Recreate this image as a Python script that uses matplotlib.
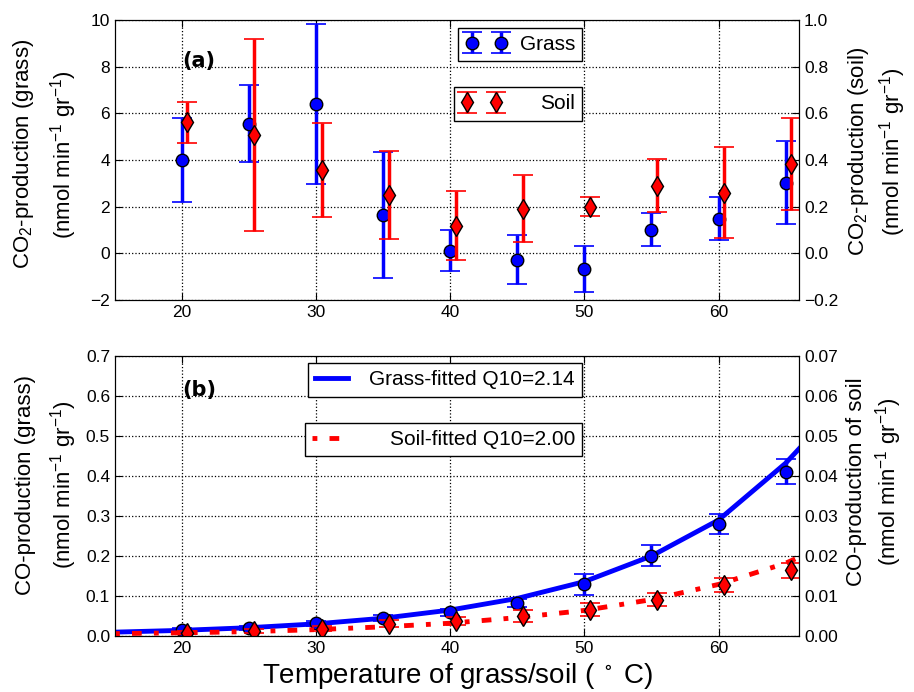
import matplotlib
matplotlib.use("Agg")
import matplotlib.pyplot as plt

plt.rcParams['font.family'] = ['Liberation Sans', 'DejaVu Sans']
plt.rcParams['mathtext.fontset'] = 'custom'
plt.rcParams['mathtext.rm'] = 'Liberation Sans'
plt.rcParams['mathtext.it'] = 'Liberation Sans'
plt.rcParams['mathtext.default'] = 'regular'
plt.rcParams['xtick.direction'] = 'in'
plt.rcParams['ytick.direction'] = 'in'

# Temperatures (soil points are drawn slightly shifted)
temps = [20, 25, 30, 35, 40, 45, 50, 55, 60, 65]
temps_soil = [t + 0.4 for t in temps]

# (a) CO2 production
co2_grass = [4.0, 5.56, 6.41, 1.64, 0.11, -0.27, -0.67, 1.01, 1.49, 3.03]
co2_grass_err = [1.8, 1.66, 3.42, 2.69, 0.87, 1.06, 0.99, 0.7, 0.91, 1.79]
co2_soil = [0.561, 0.507, 0.357, 0.25, 0.119, 0.191, 0.2, 0.29, 0.26, 0.383]
co2_soil_err = [0.087, 0.413, 0.202, 0.19, 0.147, 0.143, 0.04, 0.113, 0.196, 0.196]

# (b) CO production
co_grass = [0.016, 0.02, 0.032, 0.045, 0.059, 0.082, 0.129, 0.201, 0.28, 0.411]
co_grass_err = [0.004, 0.005, 0.006, 0.007, 0.009, 0.01, 0.026, 0.026, 0.025, 0.031]
co_soil = [0.0008, 0.0013, 0.0018, 0.0031, 0.0038, 0.005, 0.0066, 0.0091, 0.0127, 0.0164]
co_soil_err = [0.0004, 0.0005, 0.0006, 0.0008, 0.001, 0.0015, 0.0017, 0.0016, 0.0018, 0.0018]

# fitted Q10 curves
fit_t = [15, 20, 25, 30, 35, 40, 45, 50, 55, 60, 65, 66]
fit_grass = [0.0097, 0.0142, 0.0208, 0.0304, 0.0445, 0.065, 0.094, 0.136, 0.200, 0.290, 0.432, 0.468]
fit_soil = [0.0006, 0.0008, 0.0011, 0.0016, 0.0023, 0.0032, 0.0046, 0.0064, 0.0091, 0.0129, 0.0182, 0.0197]

unit = '(nmol min$^{-1}$ gr$^{-1}$)'

fig = plt.figure(figsize=(9.14, 6.92), dpi=100)
ax1 = fig.add_axes([0.1258, 0.5665, 0.7484, 0.4046])
ax2 = fig.add_axes([0.1258, 0.0809, 0.7484, 0.4046])

eb_kw = dict(linestyle='none', elinewidth=2.5, capsize=7, capthick=1.2, markeredgecolor='black')
leg_kw = dict(loc='upper right', fancybox=False, fontsize=15, edgecolor='black',
              framealpha=1, borderaxespad=0, borderpad=0.35)

# panel (a)
ax1.errorbar(temps, co2_grass, yerr=co2_grass_err, fmt='o', color='blue', ecolor='blue',
             markersize=9, label='Grass', **eb_kw)
ax1.set_xlim(15, 66)
ax1.set_ylim(-2, 10)
ax1.set_xticks([20, 30, 40, 50, 60])
ax1.grid(True, linestyle=':', color='black', linewidth=0.9)
ax1.set_ylabel('CO$_2$-production (grass)\n' + unit, fontsize=16, linespacing=1.55)
ax1.yaxis.set_label_coords(-0.052, 0.52)
ax1.text(0.098, 0.854, '(a)', transform=ax1.transAxes, fontsize=15, fontweight='bold',
         family='DejaVu Sans', va='center')
ax1r = ax1.twinx()
ax1r.errorbar(temps_soil, co2_soil, yerr=co2_soil_err, fmt='d', color='red', ecolor='red',
              markersize=10, label='Soil', **eb_kw)
ax1r.set_ylim(-0.2, 1.0)
ax1r.set_xlim(15, 66)
ax1r.set_ylabel('CO$_2$-production (soil)\n' + unit, fontsize=16, linespacing=1.3)
ax1r.yaxis.set_label_coords(1.068, 0.53)
ax1.legend(bbox_to_anchor=(0.683, 0.972), numpoints=2, handletextpad=0.6, **leg_kw)
ax1r.legend(bbox_to_anchor=(0.683, 0.760), numpoints=2, handletextpad=1.8, **leg_kw)

# panel (b)
ax2.errorbar(temps, co_grass, yerr=co_grass_err, fmt='o', color='blue', ecolor='blue',
             markersize=9, **eb_kw)
ax2.plot(fit_t, fit_grass, color='blue', linewidth=3.5, label='Grass-fitted Q10=2.14')
ax2.set_xlim(15, 66)
ax2.set_ylim(0, 0.7)
ax2.set_xticks([20, 30, 40, 50, 60])
ax2.grid(True, linestyle=':', color='black', linewidth=0.9)
ax2.set_ylabel('CO-production (grass)\n' + unit, fontsize=16, linespacing=1.55)
ax2.yaxis.set_label_coords(-0.052, 0.54)
ax2.set_xlabel('Temperature of grass/soil ( $^\\circ$ C)', fontsize=20)
ax2.text(0.098, 0.879, '(b)', transform=ax2.transAxes, fontsize=15, fontweight='bold',
         family='DejaVu Sans', va='center')
ax2r = ax2.twinx()
ax2r.errorbar(temps_soil, co_soil, yerr=co_soil_err, fmt='d', color='red', ecolor='red',
              markersize=10, **eb_kw)
ax2r.plot(fit_t, fit_soil, color='red', linewidth=3.5, linestyle=(0, (1, 2.5, 2, 2.5)),
          label='Soil-fitted Q10=2.00')
ax2r.set_ylim(0, 0.07)
ax2r.set_xlim(15, 66)
ax2r.set_ylabel('CO-production of soil\n' + unit, fontsize=16, linespacing=1.3)
ax2r.yaxis.set_label_coords(1.068, 0.55)
ax2.legend(bbox_to_anchor=(0.683, 0.975), handlelength=1.6, handletextpad=1.0, **leg_kw)
ax2r.legend(bbox_to_anchor=(0.683, 0.762), handlelength=1.3, handletextpad=2.4, **leg_kw)

for a in (ax1, ax1r, ax2, ax2r):
    a.tick_params(labelsize=12.5, length=5)
for a in (ax1, ax2):
    a.tick_params(top=True)

fig.savefig('out.png', dpi=100, facecolor='white')
